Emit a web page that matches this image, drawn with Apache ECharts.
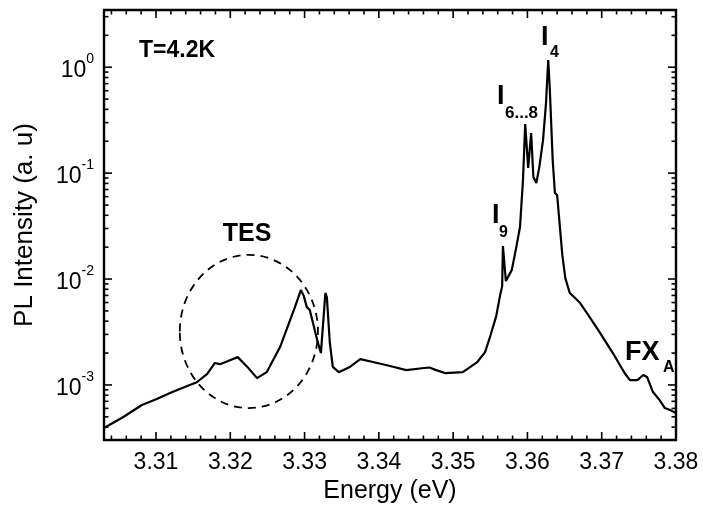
<!DOCTYPE html>
<html>
<head>
<meta charset="utf-8">
<script src="https://cdn.jsdelivr.net/npm/echarts@6/dist/echarts.min.js"></script>
<style>
html,body{margin:0;padding:0;background:#ffffff;}
#chart{width:703px;height:505px;}
</style>
</head>
<body>
<div id="chart"></div>
<script>
// ---- data ----
const energy = [3.3030,3.3056,3.3081,3.3101,3.3122,3.3142,3.3155,3.3169,3.3179,3.3186,3.3197,3.3210,3.3223,3.3236,3.3249,3.3267,3.3287,3.3295,3.3299,3.3303,3.3307,3.3317,3.3322,3.3325,3.3328,3.3330,3.3334,3.3338,3.3346,3.3361,3.3375,3.3395,3.3415,3.3437,3.3455,3.3468,3.3477,3.3490,3.3513,3.3532,3.3543,3.3550,3.3558,3.3563,3.3566,3.3567,3.3571,3.3579,3.3585,3.3590,3.3594,3.3597,3.3601,3.3605,3.3608,3.3612,3.3616,3.3621,3.3625,3.3628,3.3630,3.3634,3.3637,3.3640,3.3647,3.3651,3.3657,3.3667,3.3671,3.3682,3.3698,3.3715,3.3731,3.3738,3.3748,3.3756,3.3761,3.3769,3.3778,3.3785,3.3792,3.3800];
const intensity = [3.92e-4,4.98e-4,6.46e-4,7.36e-4,8.57e-4,9.75e-4,1.06e-3,1.27e-3,1.61e-3,1.57e-3,1.68e-3,1.83e-3,1.48e-3,1.16e-3,1.32e-3,2.28e-3,5.43e-3,7.87e-3,6.90e-3,5.43e-3,5.09e-3,2.65e-3,2.00e-3,3.84e-3,7.38e-3,6.76e-3,2.49e-3,1.48e-3,1.32e-3,1.48e-3,1.75e-3,1.63e-3,1.51e-3,1.38e-3,1.43e-3,1.46e-3,1.38e-3,1.29e-3,1.32e-3,1.63e-3,2.04e-3,2.90e-3,4.47e-3,6.90e-3,8.59e-3,2.05e-2,9.57e-3,1.22e-2,2.00e-2,3.10e-2,8.60e-2,0.290,0.112,0.239,0.0918,0.0805,0.114,0.205,0.459,1.17,0.650,0.133,0.0649,0.0621,0.0168,0.0102,7.38e-3,6.34e-3,5.93e-3,4.57e-3,3.09e-3,2.00e-3,1.29e-3,1.11e-3,1.11e-3,1.24e-3,1.19e-3,8.57e-4,7.19e-4,6.05e-4,5.79e-4,5.42e-4];

const xTickLabels = [3.31,3.32,3.33,3.34,3.35,3.36,3.37,3.38];
const yTickLabels = [1e-3,1e-2,1e-1,1];
const xRange = [3.303, 3.38];
const yRange = [3.02e-4, 3.47];

// TES dashed circle extent (energy left/right, intensity bottom/top)
const tesCircleEnergy = [3.3132, 3.3318];
const tesCircleIntensity = [6.05e-4, 1.69e-2];

// ---- minor tick positions ----
const xMinorTicks = [];
for (let k = 3304; k < 3380; k += 2) {
  if (k % 10 !== 0) xMinorTicks.push(k / 1000);
}
const yMinorTicks = [];
for (let e = -4; e <= 0; e++) {
  for (let m = 2; m <= 9; m++) {
    const v = +(m * Math.pow(10, e)).toPrecision(3);
    if (v > yRange[0] && v < yRange[1]) yMinorTicks.push(v);
  }
}

const FONT = "'Liberation Sans', Arial, Helvetica, sans-serif";
const BLACK = '#000000';
const MAJOR_LEN = 8, MINOR_LEN = 4.5, TICK_W = 1.6;

const chart = echarts.init(document.getElementById('chart'), null, {renderer: 'canvas'});
chart.setOption({
  animation: false,
  backgroundColor: '#ffffff',
  grid: {left: 104, right: 27, top: 10, bottom: 65, containLabel: false, outerBoundsMode: 'none',
         show: true, borderColor: BLACK, borderWidth: 2.4, backgroundColor: 'transparent'},
  xAxis: {
    type: 'value', min: xRange[0], max: xRange[1],
    axisLine: {show: false, onZero: false},
    axisTick: {show: false},
    axisLabel: {show: true, customValues: xTickLabels, formatter: v => v.toFixed(2),
                color: BLACK, fontSize: 23, fontFamily: FONT, margin: 11},
    splitLine: {show: false},
    name: 'Energy (eV)', nameLocation: 'middle', nameGap: 35,
    nameTextStyle: {color: BLACK, fontSize: 25, fontFamily: FONT}
  },
  yAxis: {
    type: 'log', logBase: 10, min: yRange[0], max: yRange[1],
    axisLine: {show: false, onZero: false},
    axisTick: {show: false},
    axisLabel: {
      show: true, customValues: yTickLabels, margin: 10,
      formatter: v => '{b|10}{s|' + Math.round(Math.log10(v)) + '}',
      rich: {
        b: {fontSize: 23, fontFamily: FONT, color: BLACK, lineHeight: 30, verticalAlign: 'bottom'},
        s: {fontSize: 14, fontFamily: FONT, color: BLACK, lineHeight: 16, verticalAlign: 'top'}
      }
    },
    splitLine: {show: false},
    name: 'PL Intensity (a. u)', nameLocation: 'middle', nameGap: 66, nameRotate: 90,
    nameTextStyle: {color: BLACK, fontSize: 26, fontFamily: FONT}
  },
  series: [{
    type: 'line',
    data: energy.map((e, i) => [e, intensity[i]]),
    showSymbol: false, symbol: 'none',
    smooth: false,
    lineStyle: {color: BLACK, width: 2.2},
    z: 3
  }]
});

// ---- tick marks on all four sides, positioned through the axes ----
const toPx = (x, y) => chart.convertToPixel({xAxisIndex: 0, yAxisIndex: 0}, [x, y]);
const midE = 3.34, midI = 0.01;
// frame edges from two interior reference points of each axis
const xa = toPx(xTickLabels[0], midI)[0], xb = toPx(xTickLabels[6], midI)[0];
const xPerUnit = (xb - xa) / (xTickLabels[6] - xTickLabels[0]);
const gL = xa + (xRange[0] - xTickLabels[0]) * xPerUnit;
const gR = xa + (xRange[1] - xTickLabels[0]) * xPerUnit;
const ya = toPx(midE, yTickLabels[0])[1], yb = toPx(midE, yTickLabels[3])[1];
const yPerDecade = (yb - ya) / (Math.log10(yTickLabels[3]) - Math.log10(yTickLabels[0]));
const gB = ya + (Math.log10(yRange[0]) - Math.log10(yTickLabels[0])) * yPerDecade;
const gT = ya + (Math.log10(yRange[1]) - Math.log10(yTickLabels[0])) * yPerDecade;

const tickEls = [];
function tickRect(x, y, w, h) {
  return {type: 'rect', z: 6, silent: true, shape: {x: x, y: y, width: w, height: h}, style: {fill: BLACK}};
}
function addXTick(v, len) {
  const x = toPx(v, midI)[0];
  tickEls.push(tickRect(x - TICK_W / 2, gB - len, TICK_W, len));
  tickEls.push(tickRect(x - TICK_W / 2, gT, TICK_W, len));
}
function addYTick(v, len) {
  const y = toPx(midE, v)[1];
  tickEls.push(tickRect(gL, y - TICK_W / 2, len, TICK_W));
  tickEls.push(tickRect(gR - len, y - TICK_W / 2, len, TICK_W));
}
xTickLabels.forEach(v => addXTick(v, MAJOR_LEN));
xMinorTicks.forEach(v => addXTick(v, MINOR_LEN));
yTickLabels.forEach(v => addYTick(v, MAJOR_LEN));
yMinorTicks.forEach(v => addYTick(v, MINOR_LEN));

// ---- annotations ----
const p1 = toPx(tesCircleEnergy[0], tesCircleIntensity[1]);
const p2 = toPx(tesCircleEnergy[1], tesCircleIntensity[0]);
const bold = (size) => ({fontSize: size, fontWeight: 'bold', fontFamily: FONT, fill: BLACK});
function txt(text, x, y, size, align) {
  return {type: 'text', x: x, y: y, z: 10, style: Object.assign({text: text, align: align || 'left', verticalAlign: 'middle'}, bold(size))};
}
chart.setOption({
  graphic: {elements: tickEls.concat([
    {type: 'ellipse', z: 5, shape: {cx: (p1[0] + p2[0]) / 2, cy: (p1[1] + p2[1]) / 2, rx: Math.abs(p2[0] - p1[0]) / 2, ry: Math.abs(p2[1] - p1[1]) / 2},
     style: {fill: 'none', stroke: BLACK, lineWidth: 1.8, lineDash: [8, 6]}},
    txt('T=4.2K', 139, 51, 23),
    txt('TES', 247, 234, 25, 'center'),
    txt('I', 541, 38, 27), txt('4', 550, 53, 16),
    txt('I', 497, 97, 27), txt('6...8', 505, 113, 17),
    txt('I', 492, 216, 27), txt('9', 499, 233, 16),
    txt('FX', 625, 353, 27), txt('A', 663, 368, 16)
  ])}
});
</script>
</body>
</html>
